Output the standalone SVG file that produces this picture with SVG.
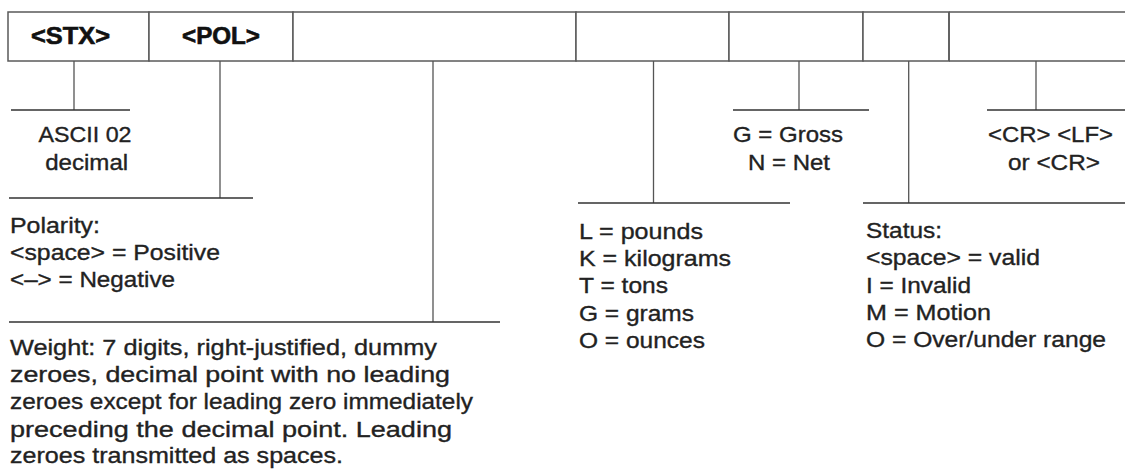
<svg xmlns="http://www.w3.org/2000/svg" width="1125" height="471" viewBox="0 0 1125 471">
<style>
.cell{fill:#fff;stroke:#5a5a5a;stroke-width:1.5}
.con{stroke:#333;stroke-width:1.3;fill:none}
.conv{stroke:#555;stroke-width:1.3;fill:none}
.t{font-family:"Liberation Sans",Arial,Helvetica,sans-serif;font-size:22.5px;fill:#222;stroke:#222;stroke-width:0.35}
.h{font-family:"Liberation Sans Narrow","Liberation Sans",Arial,sans-serif;font-weight:bold;font-size:23px;fill:#111;stroke:#111;stroke-width:0.6}
.m{text-anchor:middle}
</style>
<rect width="1125" height="471" fill="#fff"/>
<g id="record">
<g id="f-stx"><rect class="cell" x="8" y="12" width="141" height="49"/><text class="h m" x="70.5" y="43.5" textLength="79" lengthAdjust="spacingAndGlyphs">&lt;STX&gt;</text></g>
<g id="f-pol"><rect class="cell" x="149" y="12" width="144" height="49"/><text class="h m" x="221" y="43.5" textLength="78" lengthAdjust="spacingAndGlyphs">&lt;POL&gt;</text></g>
<g id="f-weight"><rect class="cell" x="293" y="12" width="283" height="49"/></g>
<g id="f-units"><rect class="cell" x="576" y="12" width="153" height="49"/></g>
<g id="f-gn"><rect class="cell" x="729" y="12" width="134" height="49"/></g>
<g id="f-status"><rect class="cell" x="863" y="12" width="86" height="49"/></g>
<g id="f-crlf"><path class="cell" d="M949 12H1125M949 61H1125M949 12V61"/></g>
</g>
<g id="connectors">
<path class="conv" d="M74 61V110M220 61V198M433 61V322M653.5 61V203M799 61V110M908.7 61V203M1036 61V110"/>
<path class="con" d="M11 110H130M9 198H253M9 322H500M578 203H790M733 110H869M863 203H1125M987 110H1125"/>
</g>
<g id="n-stx">
<text class="t m" x="85" y="141.7" textLength="93" lengthAdjust="spacingAndGlyphs">ASCII 02</text>
<text class="t m" x="86.7" y="170" textLength="83" lengthAdjust="spacingAndGlyphs">decimal</text>
</g>
<g id="n-pol">
<text class="t" x="10" y="232.7" textLength="90" lengthAdjust="spacingAndGlyphs">Polarity:</text>
<text class="t" x="10" y="259.5" textLength="210" lengthAdjust="spacingAndGlyphs">&lt;space&gt; = Positive</text>
<text class="t" x="10" y="286.5" textLength="165" lengthAdjust="spacingAndGlyphs">&lt;–&gt; = Negative</text>
</g>
<g id="n-weight">
<text class="t" x="10" y="355" textLength="427" lengthAdjust="spacingAndGlyphs">Weight: 7 digits, right-justified, dummy</text>
<text class="t" x="10" y="382" textLength="440" lengthAdjust="spacingAndGlyphs">zeroes, decimal point with no leading</text>
<text class="t" x="10" y="409" textLength="463" lengthAdjust="spacingAndGlyphs">zeroes except for leading zero immediately</text>
<text class="t" x="10" y="436.5" textLength="442" lengthAdjust="spacingAndGlyphs">preceding the decimal point. Leading</text>
<text class="t" x="10" y="463" textLength="333" lengthAdjust="spacingAndGlyphs">zeroes transmitted as spaces.</text>
</g>
<g id="n-units">
<text class="t" x="579" y="239" textLength="124" lengthAdjust="spacingAndGlyphs">L = pounds</text>
<text class="t" x="579" y="266" textLength="152" lengthAdjust="spacingAndGlyphs">K = kilograms</text>
<text class="t" x="579" y="293.3" textLength="89" lengthAdjust="spacingAndGlyphs">T = tons</text>
<text class="t" x="579" y="320.7" textLength="115" lengthAdjust="spacingAndGlyphs">G = grams</text>
<text class="t" x="579" y="347.7" textLength="126" lengthAdjust="spacingAndGlyphs">O = ounces</text>
</g>
<g id="n-gn">
<text class="t m" x="788" y="141.7" textLength="110" lengthAdjust="spacingAndGlyphs">G = Gross</text>
<text class="t m" x="789" y="170" textLength="82" lengthAdjust="spacingAndGlyphs">N = Net</text>
</g>
<g id="n-status">
<text class="t" x="866" y="238.3" textLength="76" lengthAdjust="spacingAndGlyphs">Status:</text>
<text class="t" x="866" y="265" textLength="174" lengthAdjust="spacingAndGlyphs">&lt;space&gt; = valid</text>
<text class="t" x="866" y="292.7" textLength="105" lengthAdjust="spacingAndGlyphs">I = Invalid</text>
<text class="t" x="866" y="320" textLength="125" lengthAdjust="spacingAndGlyphs">M = Motion</text>
<text class="t" x="866" y="346.7" textLength="240" lengthAdjust="spacingAndGlyphs">O = Over/under range</text>
</g>
<g id="n-crlf">
<text class="t m" x="1050.5" y="141.7" textLength="125" lengthAdjust="spacingAndGlyphs">&lt;CR&gt; &lt;LF&gt;</text>
<text class="t m" x="1054" y="170" textLength="92" lengthAdjust="spacingAndGlyphs">or &lt;CR&gt;</text>
</g>
</svg>
